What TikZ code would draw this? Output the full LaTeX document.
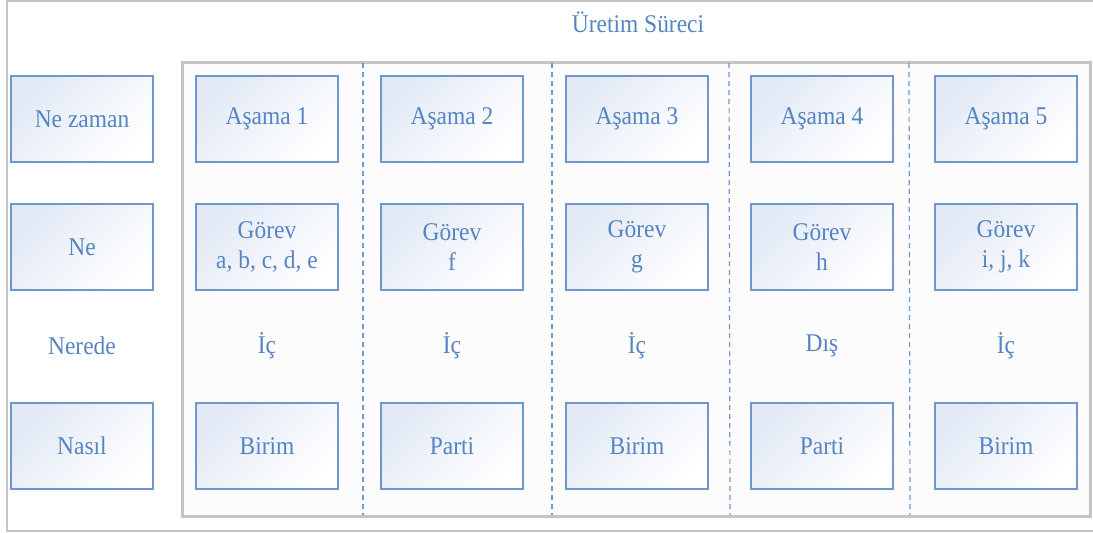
\documentclass[tikz,border=0pt]{standalone}
\usepackage{fontspec}
\setmainfont{Liberation Serif}[FakeStretch=0.92]
\definecolor{kutucizgi}{HTML}{6F97CB}
\definecolor{kutudolgu}{HTML}{E2E9F5}
\definecolor{yazi}{HTML}{5584C2}
\definecolor{cerceve}{HTML}{C4C4C4}
\tikzset{
  kutu/.style={draw=kutucizgi,line width=1.3pt,top color=kutudolgu,bottom color=white,
    shading angle=45,minimum width=142pt,minimum height=86pt,inner sep=0pt,
    align=center,text=yazi},
  etiket/.style={text=yazi,align=center},
  ayrac/.style={draw=kutucizgi,dashed,line width=1.2pt,dash pattern=on 5pt off 4pt}
}
\begin{document}
\begin{tikzpicture}[x=1pt,y=-1pt,font=\fontsize{25.5}{30}\selectfont]
  \useasboundingbox (0,0) rectangle (1093,533);
  \draw[cerceve,line width=1.5pt] (7,1) rectangle (1100,531);

  % uretim sureci paneli
  \draw[cerceve,line width=3pt,fill=gray!2] (182,62) rectangle (1090,516);
  \node[etiket] (baslik) at (638,22) {Üretim Süreci};

  % ayrac cizgileri
  \coordinate (a1) at (363,63);  \coordinate (b1) at (363,515);
  \coordinate (a2) at (552,63);  \coordinate (b2) at (552,515);
  \coordinate (a3) at (729,63);  \coordinate (b3) at (730,515);
  \coordinate (a4) at (909,63);  \coordinate (b4) at (910,515);
  \draw[ayrac] (a1) -- (b1);
  \draw[ayrac] (a2) -- (b2);
  \draw[ayrac] (a3) -- (b3);
  \draw[ayrac] (a4) -- (b4);

  % sol sutun
  \node[kutu] (nezaman) at (82,119) {Ne zaman};
  \node[kutu] (ne) at (82,247) {Ne};
  \node[etiket] (nerede) at (82,346) {Nerede};
  \node[kutu] (nasil) at (82,446) {Nasıl};

  % asamalar
  \node[kutu] (asama1) at (267,119) {Aşama 1};
  \node[kutu] (asama2) at (452,119) {Aşama 2};
  \node[kutu] (asama3) at (637,119) {Aşama 3};
  \node[kutu] (asama4) at (822,119) {Aşama 4};
  \node[kutu] (asama5) at (1006,119) {Aşama 5};

  \node[kutu] (gorev1) at (267,247) {Görev\\a, b, c, d, e};
  \node[kutu] (gorev2) at (452,247) {Görev\\f};
  \node[kutu] (gorev3) at (637,247) {Görev\\g};
  \node[kutu] (gorev4) at (822,247) {Görev\\h};
  \node[kutu] (gorev5) at (1006,247) {Görev\\i, j, k};

  \node[etiket] (yer1) at (267,346) {İç};
  \node[etiket] (yer2) at (452,346) {İç};
  \node[etiket] (yer3) at (637,346) {İç};
  \node[etiket] (yer4) at (822,346) {Dış};
  \node[etiket] (yer5) at (1006,346) {İç};

  \node[kutu] (yontem1) at (267,446) {Birim};
  \node[kutu] (yontem2) at (452,446) {Parti};
  \node[kutu] (yontem3) at (637,446) {Birim};
  \node[kutu] (yontem4) at (822,446) {Parti};
  \node[kutu] (yontem5) at (1006,446) {Birim};
\end{tikzpicture}
\end{document}
